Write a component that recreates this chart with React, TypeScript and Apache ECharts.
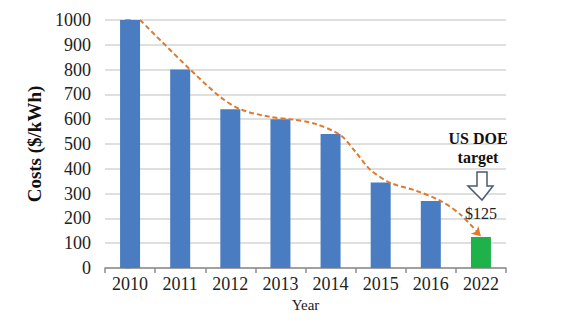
import React, { useEffect, useRef } from "react";
import * as echarts from "echarts";

const years = ["2010", "2011", "2012", "2013", "2014", "2015", "2016", "2022"];
const costs = [1000, 800, 640, 600, 540, 345, 270, 125];
// dashed trend curve (x in category units, y in $/kWh)
const trendX = [0.2, 1.2, 1.8, 2.2, 2.8, 3.2, 3.7, 4.2, 4.5, 4.8, 5.2, 5.7, 6.2, 6.6, 7.0];
const trendY = [1000, 800, 690, 640, 609, 600, 581, 535, 468, 395, 343, 312, 270, 214, 128];
const targetLabel = ["US DOE", "target"];
const targetValue = "$125";

const SERIF = "'Liberation Serif', 'DejaVu Serif', serif";

export default function App() {
  const ref = useRef<HTMLDivElement>(null);
  useEffect(() => {
    if (!ref.current) return;
    const chart = echarts.init(ref.current, null, { renderer: "svg" });
    const barData = costs.map((v, i) => ({
      value: v,
      itemStyle: { color: i === costs.length - 1 ? "#1fb24a" : "#4a7cc1" },
    }));
    const lineData = trendX.map((x, i) =>
      i === trendX.length - 1
        ? { value: [x, trendY[i]], symbol: "arrow", symbolSize: [8, 9], symbolRotate: -135 }
        : { value: [x, trendY[i]], symbol: "none" }
    );
    chart.setOption({
      animation: false,
      backgroundColor: "#ffffff",
      grid: { left: 105, right: 61, top: 20, bottom: 65, containLabel: false },
      xAxis: [
        {
          type: "category",
          data: years,
          boundaryGap: true,
          axisLine: { lineStyle: { color: "#8c8c8c", width: 1.5 } },
          axisTick: { show: true, length: 5, lineStyle: { color: "#8c8c8c", width: 1.5 } },
          axisLabel: { color: "#222", fontFamily: SERIF, fontSize: 18, margin: 7 },
          name: "Year",
          nameLocation: "middle",
          nameGap: 28,
          nameTextStyle: { color: "#222", fontFamily: SERIF, fontSize: 15 },
        },
        {
          type: "value",
          min: -0.5,
          max: 7.5,
          show: false,
        },
      ],
      yAxis: {
        type: "value",
        min: 0,
        max: 1000,
        interval: 100,
        axisLine: { show: true, lineStyle: { color: "#8c8c8c", width: 1.5 } },
        axisTick: { show: true, length: 5, lineStyle: { color: "#8c8c8c", width: 1.5 } },
        axisLabel: {
          color: "#222",
          fontFamily: SERIF,
          fontSize: 18,
          margin: 14,
          formatter: (v: number) => String(v),
        },
        splitLine: { lineStyle: { color: "#d4d4d4", width: 1.5 } },
        name: "Costs ($/kWh)",
        nameLocation: "middle",
        nameGap: 58,
        nameTextStyle: { color: "#111", fontFamily: SERIF, fontSize: 19, fontWeight: "bold" },
      },
      series: [
        {
          type: "bar",
          data: barData,
          barWidth: 20,
          xAxisIndex: 0,
        },
        {
          type: "line",
          xAxisIndex: 1,
          data: lineData,
          smooth: 0.3,
          showSymbol: true,
          symbol: "none",
          itemStyle: { color: "#e07a2c" },
          lineStyle: { color: "#e07a2c", width: 2, type: [5, 3] },
          z: 5,
        },
      ],
      graphic: [
        {
          type: "text",
          x: 478,
          y: 138,
          style: {
            text: targetLabel[0],
            fontFamily: SERIF,
            fontSize: 16,
            fontWeight: "bold",
            fill: "#111",
            align: "center",
            verticalAlign: "middle",
          },
          z: 10,
        },
        {
          type: "text",
          x: 478,
          y: 157,
          style: {
            text: targetLabel[1],
            fontFamily: SERIF,
            fontSize: 16,
            fontWeight: "bold",
            fill: "#111",
            align: "center",
            verticalAlign: "middle",
          },
          z: 10,
        },
        {
          type: "polygon",
          shape: {
            points: [
              [477, 172],
              [487, 172],
              [487, 186],
              [493, 186],
              [482, 200],
              [468, 186],
              [477, 186],
            ],
          },
          style: { fill: "#ffffff", stroke: "#4b5a78", lineWidth: 1.5 },
          z: 10,
        },
        {
          type: "text",
          x: 481,
          y: 213,
          style: {
            text: targetValue,
            fontFamily: SERIF,
            fontSize: 16,
            fill: "#222",
            align: "center",
            verticalAlign: "middle",
          },
          z: 10,
        },
      ],
    });
    return () => chart.dispose();
  }, []);
  return (
    <div
      ref={ref}
      style={{ position: "fixed", left: 0, top: 0, width: 567, height: 333, background: "#fff" }}
    />
  );
}
